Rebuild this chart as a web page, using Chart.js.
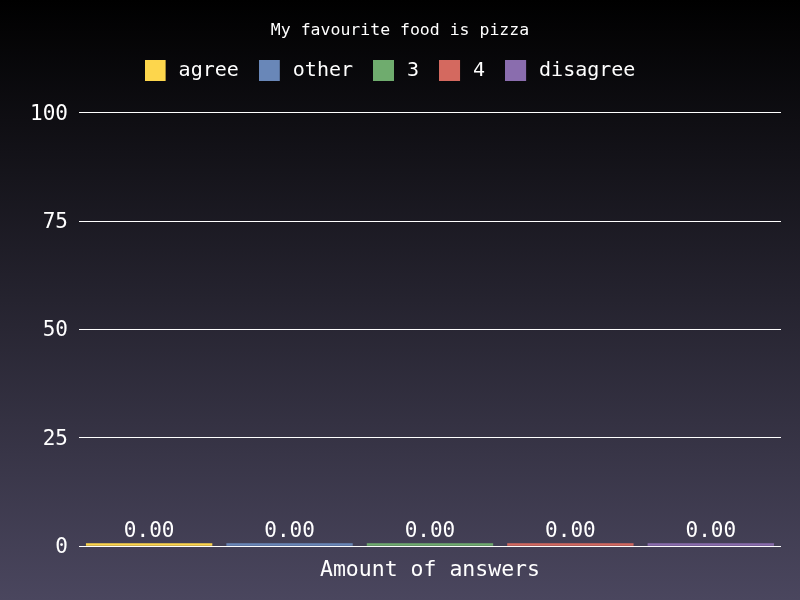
<!DOCTYPE html>
<html>
<head>
<meta charset="utf-8">
<script src="https://cdn.jsdelivr.net/npm/chart.js@4"></script>
<style>
  html, body { margin: 0; padding: 0; }
  body { width: 800px; height: 600px; background: linear-gradient(to bottom, #000000 0%, #4a465e 100%); }
  #wrap { width: 800px; height: 600px; position: relative; }
</style>
</head>
<body>
<div id="wrap"><canvas id="c"></canvas></div>
<script>
const chartTitle = 'My favourite food is pizza';
const axisTitle = 'Amount of answers';
const categories = [''];
const seriesNames = ['agree', 'other', '3', '4', 'disagree'];
const seriesValues = [[0], [0], [0], [0], [0]];
const seriesColors = ['#fdd64c', '#6987b8', '#6fac6e', '#d4695f', '#8a6dae'];
const yTicks = [0, 25, 50, 75, 100];

const FONT = "'DejaVu Sans Mono', monospace";

// legend swatch: 21px square with a little trailing space
function makeSwatch(color) {
  const c = document.createElement('canvas');
  c.width = 24;
  c.height = 21;
  const g = c.getContext('2d');
  g.fillStyle = color;
  g.fillRect(0, 0, 21, 21);
  return c;
}

const valueLabels = {
  id: 'valueLabels',
  afterDatasetsDraw(chart) {
    const ctx = chart.ctx;
    const yScale = chart.scales.y;
    ctx.save();
    ctx.font = '21px ' + FONT;
    ctx.fillStyle = '#ffffff';
    ctx.textAlign = 'center';
    ctx.textBaseline = 'middle';
    chart.data.datasets.forEach((ds, i) => {
      const meta = chart.getDatasetMeta(i);
      meta.data.forEach((bar, j) => {
        const v = ds.data[j];
        const y = yScale.getPixelForValue(v) - 15;
        ctx.fillText(v.toFixed(2), bar.x, y);
      });
    });
    ctx.restore();
  }
};

const legendTweak = {
  id: 'legendTweak',
  beforeInit(chart) {
    const lg = chart.legend;
    if (!lg) return;
    const origFit = lg.fit;
    lg.fit = function () {
      origFit.call(this);
      this.height += 22;
    };
  },
  afterLayout(chart) {
    const lg = chart.legend;
    if (!lg) return;
    lg.left -= 10;
    lg.right -= 10;
  }
};

new Chart(document.getElementById('c'), {
  type: 'bar',
  data: {
    labels: categories,
    datasets: seriesNames.map((name, i) => ({
      label: name,
      data: seriesValues[i],
      backgroundColor: seriesColors[i],
      borderColor: seriesColors[i],
      borderWidth: 0,
      minBarLength: 3,
      pointStyle: makeSwatch(seriesColors[i]),
      categoryPercentage: 1.0,
      barPercentage: 0.9
    }))
  },
  options: {
    responsive: true,
    maintainAspectRatio: false,
    animation: false,
    layout: { padding: { left: 19, right: 19, top: 11, bottom: 15 } },
    plugins: {
      title: {
        display: true,
        text: chartTitle,
        color: '#ffffff',
        font: { family: FONT, size: 16.5, weight: 'normal' },
        padding: { top: 10, bottom: 0 }
      },
      legend: {
        labels: {
          color: '#ffffff',
          font: { family: FONT, size: 20 },
          usePointStyle: true,
          pointStyleWidth: 24,
          boxWidth: 24,
          boxHeight: 20,
          padding: 20
        }
      },
      tooltip: { enabled: false }
    },
    scales: {
      x: {
        grid: { display: false, drawTicks: false },
        border: { display: false },
        ticks: { display: false },
        title: {
          display: true,
          text: axisTitle,
          color: '#ffffff',
          font: { family: FONT, size: 21.5 },
          padding: { top: 11, bottom: 2 }
        }
      },
      y: {
        min: 0,
        max: 100,
        afterBuildTicks(axis) { axis.ticks = yTicks.map(v => ({ value: v })); },
        grid: { color: '#ffffff', drawTicks: false, lineWidth: 1 },
        border: { display: false },
        ticks: {
          color: '#ffffff',
          font: { family: FONT, size: 21 },
          padding: 11,
          labelOffset: 1.5
        }
      }
    }
  },
  plugins: [valueLabels, legendTweak]
});
</script>
</body>
</html>
